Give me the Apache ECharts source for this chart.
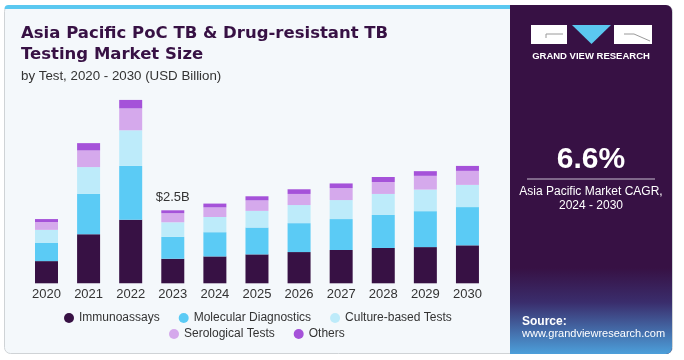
<!DOCTYPE html>
<html>
<head>
<meta charset="utf-8">
<script src="https://cdn.jsdelivr.net/npm/echarts@6/dist/echarts.min.js"></script>
<style>
html,body{margin:0;padding:0;background:#ffffff;}
#main{width:684px;height:360px;}
</style>
</head>
<body>
<div id="main"></div>
<script>
const years = ['2020','2021','2022','2023','2024','2025','2026','2027','2028','2029','2030'];
const immunoassays = [0.76, 1.68, 2.18, 0.84, 0.92, 0.99, 1.07, 1.14, 1.21, 1.24, 1.30];
const molecular    = [0.62, 1.38, 1.84, 0.75, 0.83, 0.92, 0.99, 1.06, 1.13, 1.23, 1.31];
const culture      = [0.45, 0.92, 1.22, 0.50, 0.52, 0.57, 0.62, 0.65, 0.72, 0.74, 0.76];
const serological  = [0.27, 0.57, 0.75, 0.31, 0.33, 0.36, 0.38, 0.41, 0.41, 0.47, 0.48];
const others       = [0.10, 0.25, 0.29, 0.10, 0.13, 0.14, 0.16, 0.16, 0.17, 0.16, 0.17];
const seriesNames = ['Immunoassays','Molecular Diagnostics','Culture-based Tests','Serological Tests','Others'];
const labelYear = '2023';

const colors = ['#371144','#5BCBF5','#BDEBFA','#D5A9EC','#A552D9'];
const allData = [immunoassays, molecular, culture, serological, others];
const li = years.indexOf(labelYear);
const labelTotal = allData.reduce((s,a)=>s+a[li],0);

const chart = echarts.init(document.getElementById('main'), null, {renderer:'canvas'});

const FONT = 'Liberation Sans, Arial, sans-serif';
const TITLE_FONT = 'DejaVu Sans, Liberation Sans, Arial, sans-serif';

const series = allData.map((arr, k) => ({
  name: seriesNames[k],
  type: 'bar',
  stack: 'total',
  barWidth: 23,
  itemStyle: {color: colors[k]},
  emphasis: {disabled: true},
  data: arr.map((v, i) => {
    if (k === allData.length - 1 && i === li) {
      return {value: v, label: {show: true, position: 'top', distance: 6,
        formatter: '$' + labelTotal.toFixed(1) + 'B',
        color: '#333', fontSize: 13, fontFamily: FONT}};
    }
    return v;
  })
}));

const legendText = {color: '#333', fontSize: 12, fontFamily: FONT};

chart.setOption({
  animation: false,
  textStyle: {fontFamily: FONT},
  graphic: [
    {type:'rect', z:-10, shape:{x:4.5, y:5.5, width:668, height:348, r:6}, style:{fill:'#F4F8FB', stroke:'#cfd3d6', lineWidth:1}},
    {type:'rect', z:-9, shape:{x:4.5, y:5, width:506, height:4, r:[6,0,0,0]}, style:{fill:'#5BC8F0'}},
    {type:'rect', z:-8, shape:{x:510, y:5, width:162, height:349, r:[0,6,6,0]}, style:{fill:'#371144'}},
    {type:'rect', z:-7, shape:{x:510, y:268, width:162, height:86, r:[0,0,6,0]}, style:{fill:{type:'linear', x:0, y:0, x2:0, y2:1, colorStops:[{offset:0,color:'#371144'},{offset:0.4,color:'#3a2d6c'},{offset:1,color:'#4c9fda'}]}}},
    {type:'rect', z:-6, shape:{x:531, y:25, width:36, height:19}, style:{fill:'#ffffff'}},
    {type:'polyline', z:-5, shape:{points:[[546,38],[546,34],[563,34]]}, style:{stroke:'#9a9a9a', lineWidth:1, fill:null}},
    {type:'polygon', z:-6, shape:{points:[[572,25],[611,25],[591.5,44]]}, style:{fill:'#5BC8F0'}},
    {type:'rect', z:-6, shape:{x:614, y:25, width:38, height:19}, style:{fill:'#ffffff'}},
    {type:'polyline', z:-5, shape:{points:[[624,34],[634,34],[650,41]]}, style:{stroke:'#9a9a9a', lineWidth:1, fill:null}},
    {type:'text', style:{x:591, y:56, text:'GRAND VIEW RESEARCH', fill:'#ffffff', fontSize:9.5, fontWeight:'bold', align:'center', verticalAlign:'middle', fontFamily:FONT}},
    {type:'text', style:{x:591, y:160, text:'6.6%', fill:'#ffffff', fontSize:30, fontWeight:'bold', align:'center', verticalAlign:'middle', fontFamily:FONT}},
    {type:'line', shape:{x1:527, y1:179, x2:655, y2:179}, style:{stroke:'#c9bfd0', lineWidth:1}},
    {type:'text', style:{x:591, y:192, text:'Asia Pacific Market CAGR,', fill:'#ffffff', fontSize:12, align:'center', verticalAlign:'middle', fontFamily:FONT}},
    {type:'text', style:{x:591, y:206, text:'2024 - 2030', fill:'#ffffff', fontSize:12, align:'center', verticalAlign:'middle', fontFamily:FONT}},
    {type:'text', style:{x:522, y:322, text:'Source:', fill:'#ffffff', fontSize:12, fontWeight:'bold', align:'left', verticalAlign:'middle', fontFamily:FONT}},
    {type:'text', style:{x:522, y:334, text:'www.grandviewresearch.com', fill:'#ffffff', fontSize:11, align:'left', verticalAlign:'middle', fontFamily:FONT}},
    {type:'text', style:{x:21, y:34, text:'Asia Pacific PoC TB & Drug-resistant TB', fill:'#371144', fontSize:16.5, fontWeight:'bold', align:'left', verticalAlign:'middle', fontFamily:TITLE_FONT}},
    {type:'text', style:{x:21, y:55, text:'Testing Market Size', fill:'#371144', fontSize:16.5, fontWeight:'bold', align:'left', verticalAlign:'middle', fontFamily:TITLE_FONT}},
    {type:'text', style:{x:21, y:76, text:'by Test, 2020 - 2030 (USD Billion)', fill:'#333333', fontSize:13.3, align:'left', verticalAlign:'middle', fontFamily:FONT}}
  ],
  legend: [
    {data: seriesNames.slice(0,3), left: 64, top: 312, padding: 0, itemGap: 19, itemWidth: 10, itemHeight: 10, icon: 'circle', textStyle: legendText, selectedMode: false},
    {data: seriesNames.slice(3), left: 169, top: 328, padding: 0, itemGap: 19, itemWidth: 10, itemHeight: 10, icon: 'circle', textStyle: legendText, selectedMode: false}
  ],
  grid: {left: 25.45, right: 195.5, top: 78.9, bottom: 76.7, containLabel: false},
  xAxis: {
    type: 'category', data: years,
    axisLine: {show: false}, axisTick: {show: false},
    axisLabel: {color: '#333', fontSize: 13, margin: 5, fontFamily: FONT}
  },
  yAxis: {type: 'value', min: 0, max: 7, show: false, splitLine: {show: false}},
  series: series
});
</script>
</body>
</html>
